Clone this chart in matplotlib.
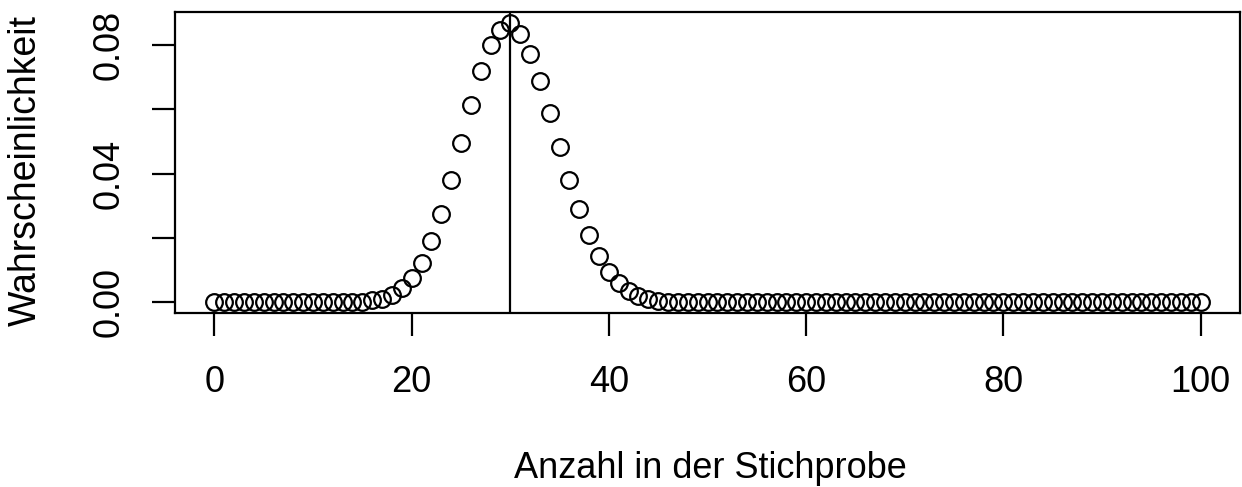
import matplotlib
matplotlib.use("Agg")
import matplotlib.pyplot as plt
import numpy as np

plt.rcParams['font.family'] = ['Liberation Sans', 'DejaVu Sans']

anzahl = np.arange(0, 101)
wahrscheinlichkeit = [0.0] * 15 + [
    0.0002, 0.0006, 0.0012, 0.0024, 0.0044, 0.0076, 0.0124, 0.0191, 0.0276,
    0.0380, 0.0496, 0.0613, 0.0720, 0.0801, 0.0847, 0.0868, 0.0834, 0.0772,
    0.0688, 0.0588, 0.0484, 0.0381, 0.0289, 0.0210, 0.0145, 0.0095, 0.0059,
    0.0035, 0.0020, 0.0011, 0.0005, 0.0002, 0.0001,
] + [0.0] * 53
linie_x = 30

x_ticks = [0, 20, 40, 60, 80, 100]
y_ticks = [0.00, 0.02, 0.04, 0.06, 0.08]
y_labels = ['0.00', '', '0.04', '', '0.08']

fig = plt.figure(figsize=(12.42, 4.87), dpi=100)
ax = fig.add_axes([175 / 1242, 1 - 313 / 487, 1065 / 1242, 301 / 487])

ax.plot(anzahl, wahrscheinlichkeit, linestyle='none', marker='o',
        markersize=12, markerfacecolor='none', markeredgecolor='black',
        markeredgewidth=1.6)
ax.axvline(linie_x, color='black', linewidth=1.6)

ax.set_xlim(-4, 104)
ax.set_ylim(-0.0033, 0.0903)

ax.set_xticks(x_ticks)
ax.set_xticklabels([str(t) for t in x_ticks])
ax.set_yticks(y_ticks)
ax.set_yticklabels(y_labels, rotation=90, va='center')

for s in ax.spines.values():
    s.set_linewidth(1.6)
ax.tick_params(axis='both', length=16.5, width=1.6, labelsize=26, color='black')
ax.tick_params(axis='x', pad=21)
ax.tick_params(axis='y', pad=18)

fig.text(26 / 1242, 1 - 170 / 487, 'Wahrscheinlichkeit', rotation=90,
         ha='center', va='center', fontsize=27)
fig.text(710 / 1242, 1 - 478 / 487, 'Anzahl in der Stichprobe',
         ha='center', va='baseline', fontsize=26)

fig.savefig('out.png', dpi=100)
